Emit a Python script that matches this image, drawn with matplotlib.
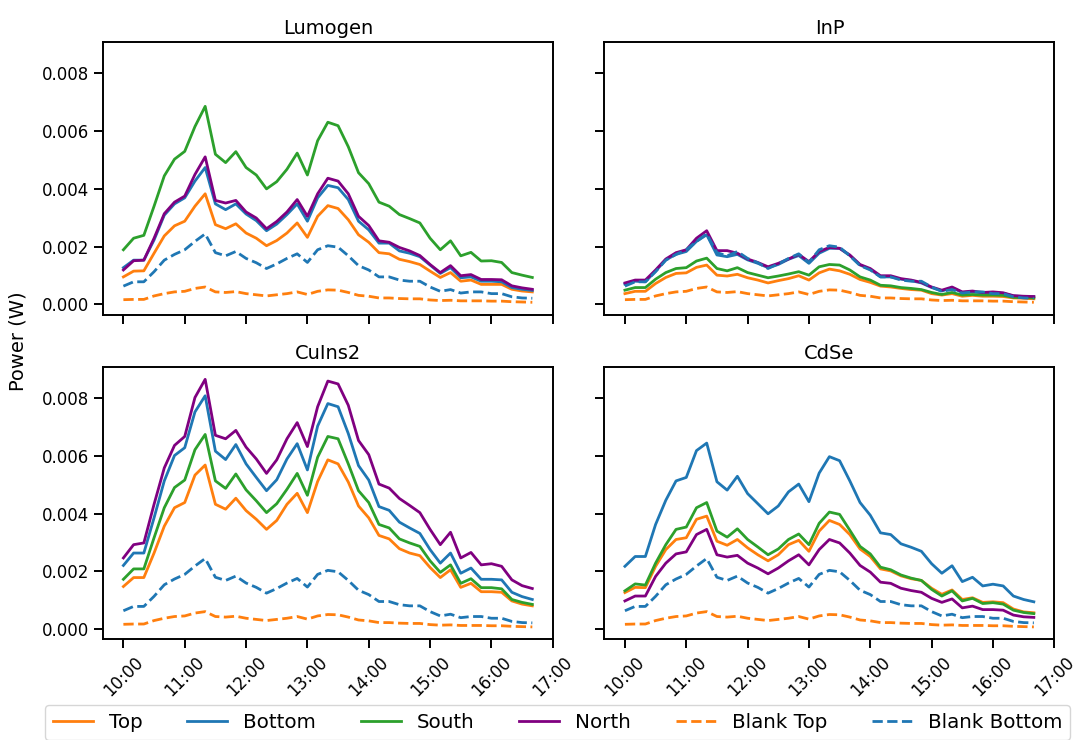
import numpy as np
import pandas as pd
import matplotlib
matplotlib.use("Agg")
import matplotlib.pyplot as plt
import matplotlib.dates as mdates

# time axis: 10:00 -> 16:40, every 10 minutes
times = pd.date_range("2023-06-21 10:00", "2023-06-21 16:40", freq="10min")

series_names = ["Top", "Bottom", "South", "North", "Blank Top", "Blank Bottom"]
panel_names = ["Lumogen", "InP", "CuIns2", "CdSe"]

# values in mW (converted to W below)
blank_top = [0.16, 0.17, 0.17, 0.29, 0.37, 0.43, 0.45, 0.55, 0.60, 0.43,
             0.41, 0.44, 0.37, 0.33, 0.29, 0.33, 0.37, 0.43, 0.34, 0.45,
             0.50, 0.49, 0.41, 0.31, 0.28, 0.22, 0.22, 0.20, 0.19, 0.19,
             0.15, 0.13, 0.14, 0.12, 0.12, 0.12, 0.11, 0.11, 0.09, 0.08, 0.07]
blank_bottom = [0.63, 0.78, 0.78, 1.13, 1.53, 1.73, 1.89, 2.18, 2.44, 1.79,
                1.68, 1.83, 1.59, 1.44, 1.24, 1.40, 1.59, 1.75, 1.45, 1.89,
                2.03, 1.98, 1.68, 1.34, 1.19, 0.95, 0.95, 0.84, 0.80, 0.80,
                0.60, 0.45, 0.51, 0.39, 0.43, 0.43, 0.37, 0.37, 0.26, 0.22, 0.21]

lumogen_top = [0.95, 1.15, 1.16, 1.77, 2.37, 2.72, 2.88, 3.40, 3.83, 2.76,
               2.62, 2.79, 2.47, 2.29, 2.03, 2.21, 2.47, 2.82, 2.32, 3.05,
               3.42, 3.32, 2.93, 2.41, 2.15, 1.79, 1.75, 1.56, 1.48, 1.38,
               1.15, 0.93, 1.10, 0.80, 0.84, 0.69, 0.69, 0.69, 0.52, 0.46, 0.43]
lumogen_bottom = [1.27, 1.53, 1.53, 2.23, 3.09, 3.48, 3.69, 4.27, 4.74, 3.48,
                  3.28, 3.48, 3.13, 2.90, 2.55, 2.78, 3.11, 3.48, 2.88, 3.69,
                  4.12, 4.04, 3.63, 2.88, 2.58, 2.12, 2.12, 1.85, 1.77, 1.65,
                  1.36, 1.07, 1.27, 0.92, 0.95, 0.80, 0.80, 0.78, 0.58, 0.52, 0.48]
lumogen_south = [1.89, 2.29, 2.39, 3.40, 4.45, 5.03, 5.30, 6.16, 6.86, 5.20,
                 4.91, 5.29, 4.74, 4.48, 4.00, 4.25, 4.68, 5.24, 4.48, 5.67,
                 6.31, 6.19, 5.46, 4.56, 4.18, 3.54, 3.40, 3.11, 2.97, 2.82,
                 2.29, 1.89, 2.20, 1.68, 1.80, 1.50, 1.51, 1.45, 1.10, 1.01, 0.93]
lumogen_north = [1.19, 1.51, 1.53, 2.29, 3.14, 3.54, 3.75, 4.50, 5.11, 3.60,
                 3.51, 3.60, 3.20, 2.99, 2.62, 2.87, 3.20, 3.63, 3.05, 3.83,
                 4.37, 4.27, 3.83, 3.05, 2.73, 2.20, 2.15, 1.97, 1.85, 1.69,
                 1.38, 1.10, 1.34, 0.99, 1.03, 0.86, 0.86, 0.85, 0.64, 0.57, 0.52]

inp_top = [0.37, 0.45, 0.45, 0.72, 0.93, 1.07, 1.09, 1.28, 1.36, 1.01,
           0.98, 1.04, 0.92, 0.84, 0.74, 0.82, 0.89, 0.99, 0.84, 1.09,
           1.22, 1.16, 1.04, 0.86, 0.76, 0.63, 0.60, 0.55, 0.51, 0.49,
           0.37, 0.32, 0.37, 0.28, 0.31, 0.28, 0.28, 0.27, 0.22, 0.21, 0.19]
inp_bottom = [0.70, 0.80, 0.78, 1.15, 1.54, 1.73, 1.83, 2.18, 2.41, 1.71,
              1.65, 1.73, 1.54, 1.42, 1.27, 1.38, 1.56, 1.69, 1.42, 1.77,
              1.94, 1.94, 1.69, 1.36, 1.21, 0.95, 0.95, 0.87, 0.82, 0.74,
              0.58, 0.46, 0.57, 0.41, 0.43, 0.40, 0.41, 0.38, 0.29, 0.27, 0.26]
inp_south = [0.49, 0.58, 0.58, 0.87, 1.10, 1.24, 1.27, 1.50, 1.60, 1.24,
             1.16, 1.27, 1.10, 1.01, 0.92, 0.98, 1.05, 1.13, 1.01, 1.30,
             1.38, 1.36, 1.19, 0.95, 0.84, 0.66, 0.64, 0.58, 0.55, 0.51,
             0.41, 0.34, 0.41, 0.32, 0.34, 0.32, 0.32, 0.31, 0.24, 0.23, 0.22]
inp_north = [0.74, 0.84, 0.84, 1.19, 1.57, 1.79, 1.89, 2.29, 2.55, 1.86,
             1.86, 1.77, 1.57, 1.45, 1.30, 1.42, 1.57, 1.73, 1.48, 1.83,
             1.97, 1.94, 1.71, 1.38, 1.24, 0.99, 0.99, 0.89, 0.84, 0.76,
             0.60, 0.49, 0.60, 0.43, 0.46, 0.41, 0.43, 0.40, 0.30, 0.28, 0.27]

cuins2_top = [1.47, 1.78, 1.78, 2.63, 3.56, 4.20, 4.38, 5.33, 5.68, 4.32,
              4.15, 4.53, 4.10, 3.80, 3.45, 3.76, 4.32, 4.70, 4.03, 5.11,
              5.86, 5.72, 5.09, 4.26, 3.85, 3.24, 3.12, 2.78, 2.63, 2.54,
              2.13, 1.78, 2.05, 1.44, 1.58, 1.29, 1.29, 1.27, 0.97, 0.86, 0.80]
cuins2_bottom = [2.20, 2.63, 2.63, 3.85, 5.13, 6.01, 6.28, 7.52, 8.08, 6.16,
                 5.87, 6.39, 5.72, 5.25, 4.79, 5.17, 5.89, 6.42, 5.51, 7.03,
                 7.81, 7.70, 6.77, 5.66, 5.16, 4.24, 4.11, 3.70, 3.50, 3.31,
                 2.75, 2.28, 2.63, 1.93, 2.11, 1.72, 1.72, 1.70, 1.27, 1.12, 1.02]
cuins2_south = [1.72, 2.08, 2.08, 3.16, 4.20, 4.90, 5.16, 6.21, 6.74, 5.13,
                4.87, 5.37, 4.82, 4.44, 4.03, 4.34, 4.84, 5.39, 4.63, 5.95,
                6.67, 6.59, 5.72, 4.79, 4.38, 3.62, 3.50, 3.12, 2.98, 2.86,
                2.36, 1.96, 2.22, 1.58, 1.74, 1.43, 1.43, 1.39, 1.02, 0.92, 0.85]
cuins2_north = [2.46, 2.92, 2.98, 4.32, 5.58, 6.36, 6.67, 8.02, 8.65, 6.71,
                6.59, 6.88, 6.30, 5.89, 5.39, 5.86, 6.59, 7.15, 6.32, 7.70,
                8.59, 8.49, 7.75, 6.53, 6.04, 5.02, 4.88, 4.52, 4.28, 4.03,
                3.45, 2.92, 3.35, 2.46, 2.65, 2.22, 2.26, 2.17, 1.70, 1.50, 1.40]

cdse_top = [1.26, 1.44, 1.43, 2.17, 2.75, 3.10, 3.16, 3.80, 3.91, 3.04,
            2.90, 3.10, 2.81, 2.57, 2.36, 2.57, 2.92, 3.07, 2.69, 3.39,
            3.76, 3.62, 3.27, 2.77, 2.51, 2.08, 2.01, 1.84, 1.74, 1.68,
            1.41, 1.20, 1.35, 1.02, 1.08, 0.92, 0.94, 0.91, 0.69, 0.59, 0.56]
cdse_bottom = [2.17, 2.51, 2.51, 3.62, 4.46, 5.13, 5.25, 6.18, 6.44, 5.10,
               4.81, 5.29, 4.69, 4.34, 3.99, 4.26, 4.75, 5.02, 4.41, 5.40,
               5.97, 5.83, 5.13, 4.38, 3.94, 3.33, 3.27, 2.95, 2.83, 2.69,
               2.26, 1.93, 2.19, 1.64, 1.79, 1.49, 1.55, 1.49, 1.14, 1.02, 0.94]
cdse_south = [1.32, 1.56, 1.52, 2.28, 2.92, 3.45, 3.53, 4.20, 4.38, 3.39,
              3.18, 3.47, 3.10, 2.84, 2.57, 2.77, 3.10, 3.29, 2.92, 3.66,
              4.05, 3.97, 3.42, 2.86, 2.60, 2.14, 2.05, 1.87, 1.76, 1.68,
              1.37, 1.14, 1.32, 0.97, 1.06, 0.88, 0.91, 0.86, 0.65, 0.57, 0.53]
cdse_north = [0.97, 1.14, 1.14, 1.82, 2.28, 2.60, 2.67, 3.27, 3.45, 2.57,
              2.49, 2.55, 2.28, 2.11, 1.91, 2.11, 2.36, 2.57, 2.22, 2.75,
              3.10, 2.98, 2.63, 2.20, 1.97, 1.62, 1.58, 1.41, 1.33, 1.27,
              1.06, 0.92, 1.04, 0.73, 0.79, 0.67, 0.67, 0.65, 0.48, 0.42, 0.40]

panels = {
    "Lumogen": [lumogen_top, lumogen_bottom, lumogen_south, lumogen_north],
    "InP": [inp_top, inp_bottom, inp_south, inp_north],
    "CuIns2": [cuins2_top, cuins2_bottom, cuins2_south, cuins2_north],
    "CdSe": [cdse_top, cdse_bottom, cdse_south, cdse_north],
}

colors = ["#ff7f0e", "#1f77b4", "#2ca02c", "#800080", "#ff7f0e", "#1f77b4"]
styles = ["-", "-", "-", "-", "--", "--"]

fig, axes = plt.subplots(2, 2, figsize=(10.78, 7.4), dpi=100, sharex=True, sharey=True)
fig.subplots_adjust(left=0.0955, right=0.978, top=0.9428, bottom=0.1361,
                    wspace=0.115, hspace=0.192)

for ax, name in zip(axes.flat, panel_names):
    data = panels[name] + [blank_top, blank_bottom]
    for vals, c, ls, lab in zip(data, colors, styles, series_names):
        ax.plot(times, np.array(vals) / 1000, color=c, linestyle=ls, linewidth=2.0, label=lab)
    ax.set_title(name, fontsize=14)
    for sp in ax.spines.values():
        sp.set_linewidth(1.4)
    ax.tick_params(axis="both", labelsize=12, length=6.5, width=1.4, pad=3.5)
    ax.xaxis.set_major_locator(mdates.HourLocator())
    ax.xaxis.set_major_formatter(mdates.DateFormatter("%H:%M"))
    ax.set_yticks([0.0, 0.002, 0.004, 0.006, 0.008])
    ax.yaxis.set_major_formatter(matplotlib.ticker.FormatStrFormatter("%.3f"))

for ax in axes[1]:
    plt.setp(ax.get_xticklabels(), rotation=45)

fig.text(0.017, 0.539, "Power (W)", rotation=90, va="center", ha="center", fontsize=14)

handles, labels = axes[0, 0].get_legend_handles_labels()
fig.legend(handles, labels, loc="upper left", ncol=6, mode="expand",
           bbox_to_anchor=(0.0417, 0.0473, 0.951, 0.0), borderaxespad=0,
           fontsize=14.3)

fig.savefig("out.png", dpi=100)
